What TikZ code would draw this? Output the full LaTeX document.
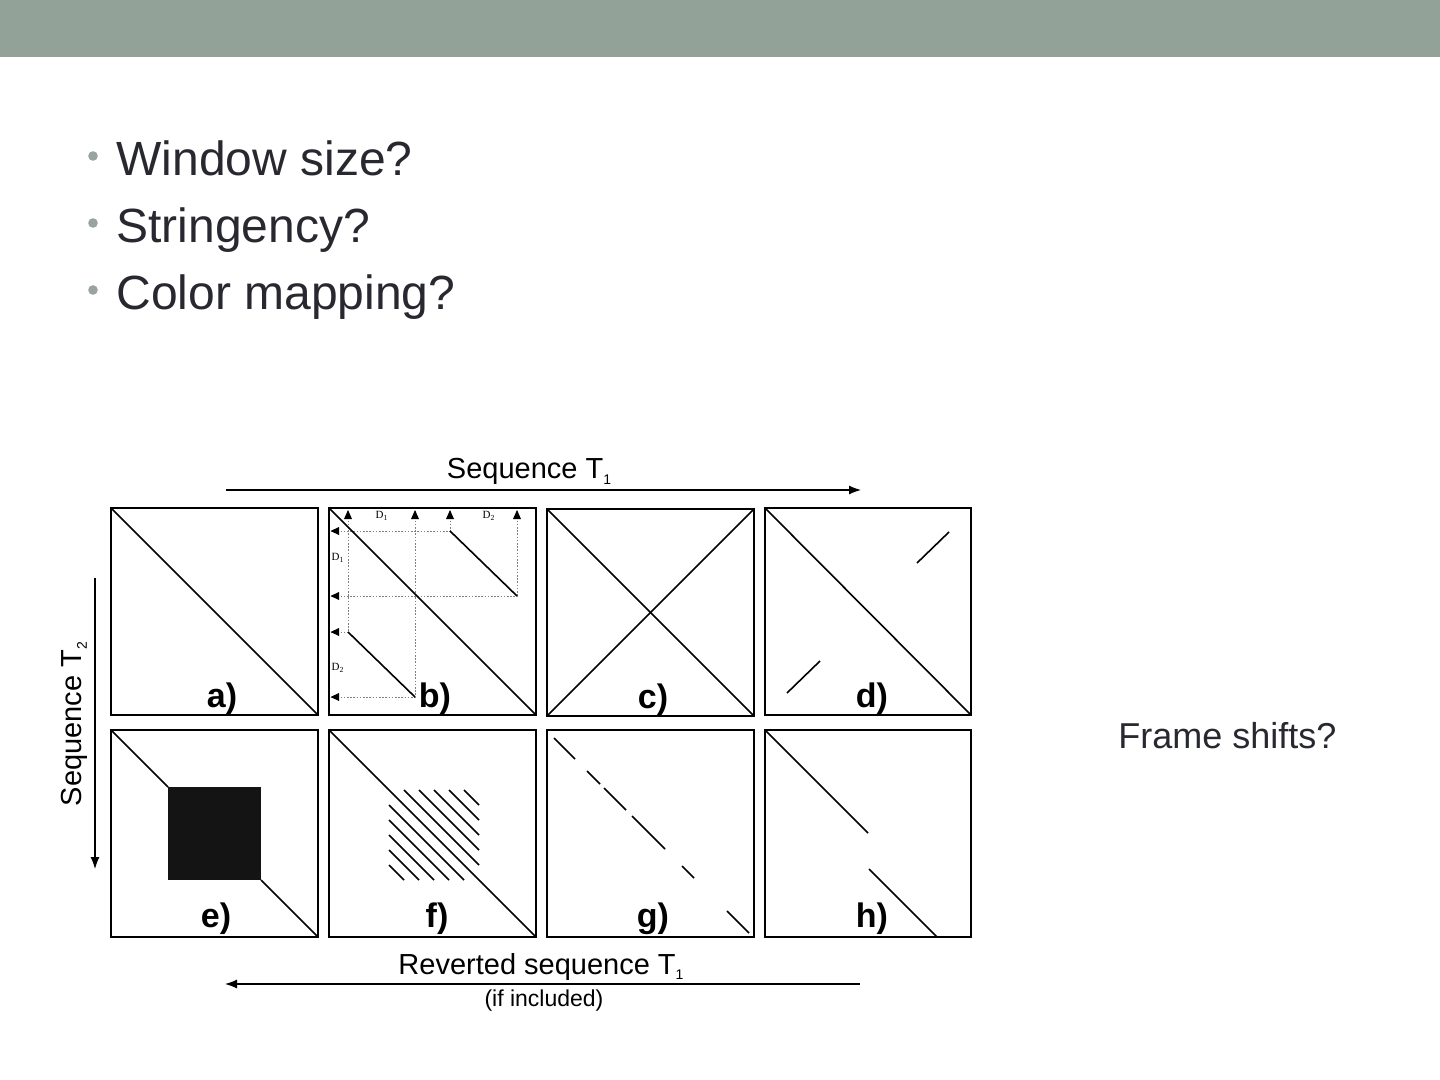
\documentclass[tikz,border=0pt]{standalone}
\usepackage{fontspec}
\setmainfont{Liberation Sans}
\newfontfamily\serifD{Liberation Serif}
\usetikzlibrary{arrows.meta}
\definecolor{barcol}{RGB}{147,162,153}
\definecolor{dotcol}{RGB}{152,164,157}
\definecolor{txtcol}{RGB}{40,40,48}
\newcommand\mysub[1]{\raisebox{-0.2em}{\fontsize{7}{8}\selectfont #1}}
\begin{document}
\begin{tikzpicture}[x=0.5pt,y=-0.5pt,
  panelbox/.style={draw=black, line width=1.3pt},
  diag/.style={draw=black, line width=0.8pt},
  dotl/.style={draw=gray, line width=0.35pt, dash pattern=on 0.8pt off 0.8pt},
  arr/.style={draw=black, line width=0.6pt, -{Latex[length=6pt,width=4.5pt]}},
  bullettext/.style={anchor=base west, inner sep=0pt, text=txtcol, font=\fontsize{24}{28}\selectfont},
  figlabel/.style={anchor=base, inner sep=0pt, text=black, font=\fontsize{14.5}{17}\selectfont},
  smalllabel/.style={anchor=base, inner sep=0pt, text=black, font=\fontsize{11.5}{14}\selectfont},
  plabel/.style={anchor=base, inner sep=0pt, text=black, font=\fontsize{17}{20}\selectfont\bfseries},
  dlabel/.style={inner sep=0pt, text=black, font=\fontsize{5.5}{6}\selectfont\serifD},
  tri/.style={fill=black}
]
\useasboundingbox (0,0) rectangle (1440,1080);
\fill[white] (0,0) rectangle (1440,1080);
\fill[barcol] (0,0) rectangle (1440,57);

% bullets
\fill[dotcol] (93,156) circle (2.4pt);
\fill[dotcol] (93,223) circle (2.4pt);
\fill[dotcol] (93,290) circle (2.4pt);
\node[bullettext] (t1) at (116,176) {Window size?};
\node[bullettext] (t2) at (116,243) {Stringency?};
\node[bullettext] (t3) at (116,310) {Color mapping?};

\node[anchor=base west, inner sep=0pt, text=txtcol, font=\fontsize{18}{22}\selectfont] (fs) at (1118,748) {Frame shifts?};

% axis labels and arrows
\node[figlabel] (st1) at (529,479) {Sequence T\mysub{1}};
\coordinate (ta) at (226,490);
\coordinate (tb) at (861,490);
\draw[arr] (ta) -- (tb);

\node[figlabel, rotate=90] (st2) at (81,724) {Sequence T\mysub{2}};
\coordinate (la) at (95,578);
\coordinate (lb) at (95,869);
\draw[arr] (la) -- (lb);

\node[figlabel] (rs) at (541,974) {Reverted sequence T\mysub{1}};
\node[smalllabel] (ifi) at (544,1006) {(if included)};
\coordinate (ba) at (860,984);
\coordinate (bb) at (225,984);
\draw[arr] (ba) -- (bb);

% panel a
\begin{scope}[shift={(111,508)}]
  \draw[panelbox] (0,0) rectangle (207,207);
  \draw[diag] (0,0) -- (207,207);
  \node[plabel] (pa) at (111,199) {a)};
\end{scope}

% panel b
\begin{scope}[shift={(329,508)}]
  \draw[dotl] (19,3) -- (19,124);
  \draw[dotl] (86,3) -- (86,189);
  \draw[dotl] (121,3) -- (121,23);
  \draw[dotl] (188,3) -- (188,88);
  \draw[dotl] (2,23) -- (121,23);
  \draw[dotl] (2,88) -- (188,88);
  \draw[dotl] (2,124) -- (19,124);
  \draw[dotl] (2,189) -- (86,189);
  \foreach \xx in {19,86,121,188} {
    \fill[tri] (\xx-4,11) -- (\xx+4,11) -- (\xx,2) -- cycle;
  }
  \foreach \yy in {23,88,124,189} {
    \fill[tri] (10,\yy-4) -- (10,\yy+4) -- (1.5,\yy) -- cycle;
  }
  \node[dlabel] (d1t) at (53,8) {D\textsubscript{1}};
  \node[dlabel] (d2t) at (160,8) {D\textsubscript{2}};
  \node[dlabel] (d1l) at (9,50) {D\textsubscript{1}};
  \node[dlabel] (d2l) at (9,160) {D\textsubscript{2}};
  \draw[diag] (121,23) -- (188,88);
  \draw[diag] (19,124) -- (86,189);
  \draw[diag] (0,0) -- (207,207);
  \draw[panelbox] (0,0) rectangle (207,207);
  \node[plabel] (pb) at (106,199) {b)};
\end{scope}

% panel c
\begin{scope}[shift={(547,509)}]
  \draw[panelbox] (0,0) rectangle (207,207);
  \draw[diag] (0,0) -- (207,207);
  \draw[diag] (0,207) -- (207,0);
  \node[plabel] (pc) at (106,199) {c)};
\end{scope}

% panel d
\begin{scope}[shift={(765,508)}]
  \draw[panelbox] (0,0) rectangle (206,207);
  \draw[diag] (0,0) -- (206,207);
  \draw[diag] (184,24) -- (152,55);
  \draw[diag] (55,153) -- (22,185);
  \node[plabel] (pd) at (107,199) {d)};
\end{scope}

% panel e
\begin{scope}[shift={(111,730)}]
  \draw[panelbox] (0,0) rectangle (207,207);
  \draw[diag] (0,0) -- (57,57);
  \draw[diag] (150,150) -- (207,207);
  \fill[black!92] (57,57) rectangle (150,150);
  \node[plabel] (pe) at (105,197) {e)};
\end{scope}

% panel f
\begin{scope}[shift={(329,730)}]
  \draw[panelbox] (0,0) rectangle (207,207);
  \draw[diag] (0,0) -- (207,207);
  \foreach \k in {1,2,3,4,5} {
    \draw[diag] (60+15*\k,60) -- (150,150-15*\k);
    \draw[diag] (60,60+15*\k) -- (150-15*\k,150);
  }
  \node[plabel] (pf) at (108,197) {f)};
\end{scope}

% panel g
\begin{scope}[shift={(547,730)}]
  \draw[panelbox] (0,0) rectangle (207,207);
  \foreach \aa/\bb in {7/28,40/53,57/79,85/118,135/147,180/202} {
    \draw[diag] (\aa,\aa+1) -- (\bb,\bb+1);
  }
  \node[plabel] (pg) at (106,197) {g)};
\end{scope}

% panel h
\begin{scope}[shift={(765,730)}]
  \draw[panelbox] (0,0) rectangle (206,207);
  \draw[diag] (0,0) -- (103,103);
  \draw[diag] (104,139) -- (172,207);
  \node[plabel] (ph) at (107,197) {h)};
\end{scope}
\end{tikzpicture}
\end{document}
